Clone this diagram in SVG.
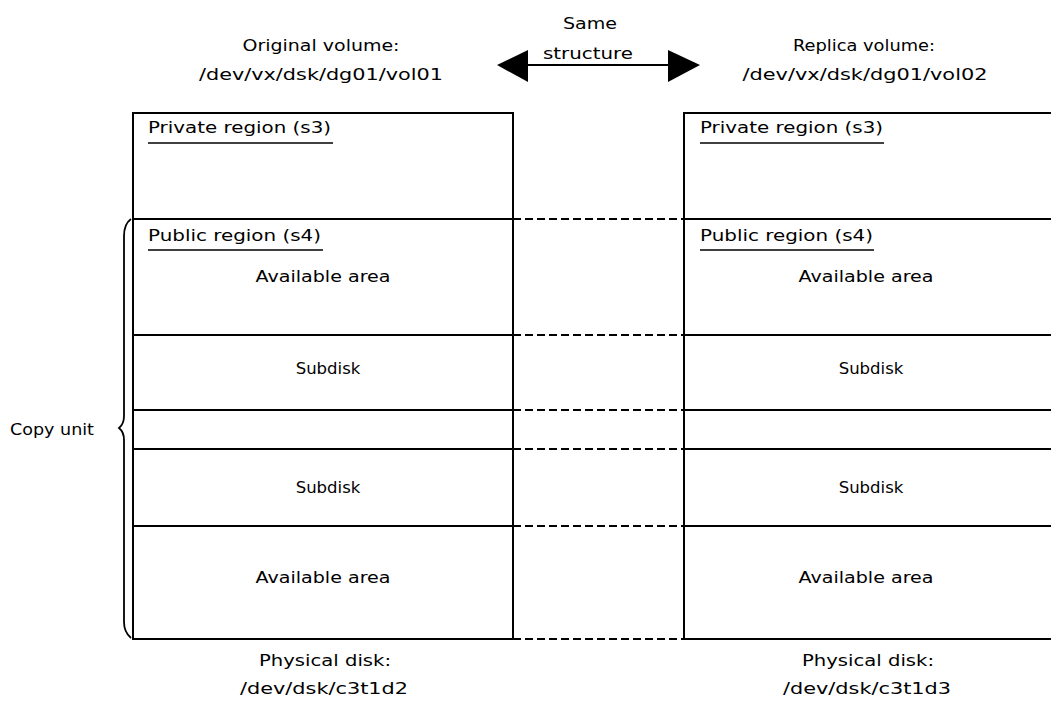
<svg xmlns="http://www.w3.org/2000/svg" width="1051" height="701" viewBox="0 0 1051 701">
<style>
text{font-family:"DejaVu Sans","Liberation Sans",Arial,sans-serif;font-size:16.5px;fill:#000}
.c{text-anchor:middle}
.box{fill:none;stroke:#000;stroke-width:2}
.ln{stroke:#000;stroke-width:2}
.ul{stroke:#000;stroke-width:1.5}
.dash{stroke:#000;stroke-width:2;stroke-dasharray:8 4}
</style>
<rect width="1051" height="701" fill="#fff"/>
<g id="header">
<text class="c" x="321" y="51" textLength="157" lengthAdjust="spacingAndGlyphs">Original volume:</text>
<text class="c" x="321" y="80" textLength="244" lengthAdjust="spacingAndGlyphs">/dev/vx/dsk/dg01/vol01</text>
<text class="c" x="864" y="51" textLength="142" lengthAdjust="spacingAndGlyphs">Replica volume:</text>
<text class="c" x="865" y="80" textLength="245" lengthAdjust="spacingAndGlyphs">/dev/vx/dsk/dg01/vol02</text>
<text class="c" x="590" y="29" textLength="54" lengthAdjust="spacingAndGlyphs">Same</text>
<text class="c" x="588" y="59" textLength="90" lengthAdjust="spacingAndGlyphs">structure</text>
</g>
<g id="left-disk">
<path class="box" d="M133 113H513V639H133Z"/>
<path class="ln" d="M133 219H513M133 335H513M133 410H513M133 449H513M133 526H513"/>
<text x="148" y="133" textLength="183" lengthAdjust="spacingAndGlyphs">Private region (s3)</text>
<line class="ul" x1="148" y1="143" x2="333" y2="143"/>
<text x="148" y="241" textLength="173" lengthAdjust="spacingAndGlyphs">Public region (s4)</text>
<line class="ul" x1="148" y1="250" x2="323" y2="250"/>
<text class="c" x="323" y="282" textLength="135" lengthAdjust="spacingAndGlyphs">Available area</text>
<text class="c" x="328" y="374">Subdisk</text>
<text class="c" x="328" y="493">Subdisk</text>
<text class="c" x="323" y="583" textLength="135" lengthAdjust="spacingAndGlyphs">Available area</text>
<text class="c" x="325" y="666" textLength="132" lengthAdjust="spacingAndGlyphs">Physical disk:</text>
<text class="c" x="324" y="694" textLength="168" lengthAdjust="spacingAndGlyphs">/dev/dsk/c3t1d2</text>
</g>
<g id="right-disk">
<path class="box" d="M1053 113H684V639H1053"/>
<path class="ln" d="M684 219H1051M684 335H1051M684 410H1051M684 449H1051M684 526H1051"/>
<text x="700" y="133" textLength="183" lengthAdjust="spacingAndGlyphs">Private region (s3)</text>
<line class="ul" x1="700" y1="143" x2="884" y2="143"/>
<text x="700" y="241" textLength="173" lengthAdjust="spacingAndGlyphs">Public region (s4)</text>
<line class="ul" x1="700" y1="250" x2="874" y2="250"/>
<text class="c" x="866" y="282" textLength="135" lengthAdjust="spacingAndGlyphs">Available area</text>
<text class="c" x="871" y="374">Subdisk</text>
<text class="c" x="871" y="493">Subdisk</text>
<text class="c" x="866" y="583" textLength="135" lengthAdjust="spacingAndGlyphs">Available area</text>
<text class="c" x="868" y="666" textLength="132" lengthAdjust="spacingAndGlyphs">Physical disk:</text>
<text class="c" x="867" y="694" textLength="168" lengthAdjust="spacingAndGlyphs">/dev/dsk/c3t1d3</text>
</g>
<g id="copy-unit">
<path fill="none" stroke="#000" stroke-width="1.8" d="M131 219Q124 224 124 236V416Q124 424 119 428Q124 432 124 440V622Q124 632 131 638"/>
<text x="10" y="435" textLength="84" lengthAdjust="spacingAndGlyphs">Copy unit</text>
</g>
<g id="connectors">
<path class="dash" d="M513 219H684M513 335H684M513 410H684M513 449H684M513 526H684M513 639H684"/>
<line class="ln" x1="526" y1="65" x2="670" y2="65"/>
<polygon points="497,65 528,50 528,82"/>
<polygon points="700,65 668,50 668,82"/>
</g>
</svg>
